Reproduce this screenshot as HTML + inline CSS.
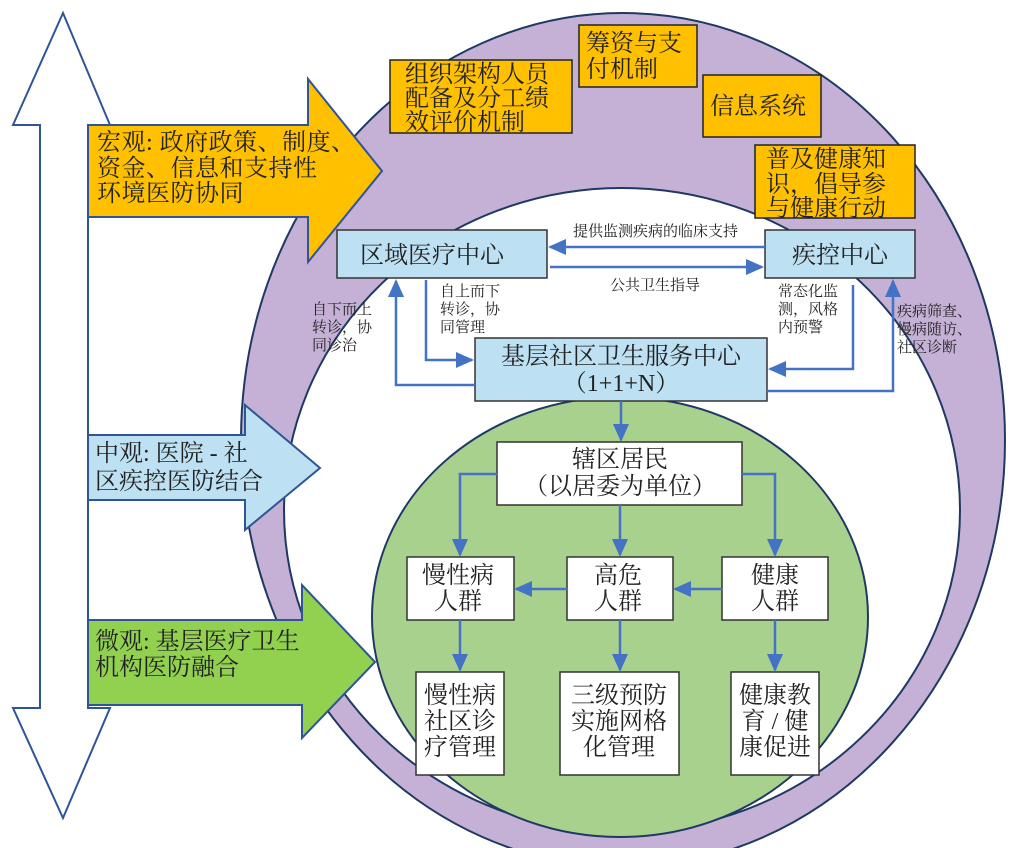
<!DOCTYPE html>
<html><head><meta charset="utf-8"><style>
html,body{margin:0;padding:0;background:#fff;}
svg{display:block;}
text{font-family:"Liberation Serif","Noto Serif CJK SC","Noto Sans CJK SC",serif;fill:#222;}
</style></head><body>
<svg width="1026" height="848" viewBox="0 0 1026 848" xmlns="http://www.w3.org/2000/svg">
<defs>
<marker id="ahb" markerWidth="18" markerHeight="16" refX="16" refY="8" orient="auto" markerUnits="userSpaceOnUse" viewBox="0 0 18 16">
<path d="M0,0 L18,8 L0,16 z" fill="#4472C4"/></marker>
</defs>
<ellipse cx="623" cy="440" rx="382" ry="427" fill="#C5B0D6" stroke="#1F3864" stroke-width="2"/>
<ellipse cx="622" cy="510" rx="338" ry="322" fill="#fff" stroke="#1F3864" stroke-width="2"/>
<ellipse cx="620" cy="617" rx="248" ry="220" fill="#A9D18E" stroke="#1F3864" stroke-width="2"/>

<path d="M63,13 L110,125 L88,125 L88,708 L110,708 L63,818 L13,708 L40,708 L40,125 L13,125 Z" fill="#fff" stroke="#2F5597" stroke-width="2"/>
<path d="M88,125 L308,125 L308,79 L382,171 L308,262 L308,217 L88,217 Z" fill="#FFC000" stroke="#2F5597" stroke-width="2"/>
<text font-size="24" letter-spacing="0.5"><tspan x="97" y="150">宏观: 政府政策、制度、</tspan><tspan x="97" y="176">资金、信息和支持性</tspan><tspan x="97" y="201">环境医防协同</tspan></text>
<path d="M88,435 L245,435 L245,405 L320,468 L245,530 L245,500 L88,500 Z" fill="#BDE0F3" stroke="#2F5597" stroke-width="2"/>
<text font-size="24"><tspan x="95" y="461">中观: 医院 - 社</tspan><tspan x="95" y="489">区疾控医防结合</tspan></text>
<path d="M88,620 L302,620 L302,585 L375,662 L302,738 L302,705 L88,705 Z" fill="#92D050" stroke="#2F5597" stroke-width="2"/>
<text font-size="24"><tspan x="95" y="649">微观: 基层医疗卫生</tspan><tspan x="95" y="675">机构医防融合</tspan></text>

<g fill="#FFC000" stroke="#222" stroke-width="1.5">
<rect x="390" y="60" width="182" height="73"/>
<rect x="579" y="25" width="118" height="62"/>
<rect x="703" y="75" width="118" height="62"/>
<rect x="755" y="145" width="160" height="73"/>
</g>
<text font-size="24"><tspan x="405" y="82">组织架构人员</tspan><tspan x="405" y="106">配备及分工绩</tspan><tspan x="405" y="130">效评价机制</tspan></text>
<text font-size="24"><tspan x="586" y="51">筹资与支</tspan><tspan x="586" y="77">付机制</tspan></text>
<text font-size="24" x="710" y="114">信息系统</text>
<text font-size="24"><tspan x="766" y="167">普及健康知</tspan><tspan x="766" y="192">识，倡导参</tspan><tspan x="766" y="216">与健康行动</tspan></text>

<g fill="#BDE0F3" stroke="#333" stroke-width="1.5">
<rect x="337" y="230" width="210" height="48"/>
<rect x="765" y="230" width="150" height="48"/>
<rect x="475" y="338" width="292" height="63"/>
</g>
<text font-size="24" x="432" y="263" text-anchor="middle">区域医疗中心</text>
<text font-size="24" x="840" y="263" text-anchor="middle">疾控中心</text>
<text font-size="24" x="621" y="364" text-anchor="middle">基层社区卫生服务中心</text>
<text font-size="24" x="621" y="391" text-anchor="middle">（1+1+N）</text>

<g stroke="#4472C4" stroke-width="2.5" fill="none">
<line x1="765" y1="247" x2="550" y2="247" marker-end="url(#ahb)"/>
<line x1="550" y1="267" x2="762" y2="267" marker-end="url(#ahb)"/>
<polyline points="426,280 426,360 472,360" marker-end="url(#ahb)"/>
<polyline points="475,385 396,385 396,281" marker-end="url(#ahb)"/>
<polyline points="853,285 853,369 770,369" marker-end="url(#ahb)"/>
<polyline points="767,391 893,391 893,281" marker-end="url(#ahb)"/>
<line x1="621" y1="401" x2="621" y2="440" marker-end="url(#ahb)"/>
</g>
<text font-size="15" x="573" y="236">提供监测疾病的临床支持</text>
<text font-size="15" x="610" y="290">公共卫生指导</text>
<text font-size="15"><tspan x="440" y="296">自上而下</tspan><tspan x="440" y="314">转诊，协</tspan><tspan x="440" y="332">同管理</tspan></text>
<text font-size="15"><tspan x="312" y="314">自下而上</tspan><tspan x="312" y="332">转诊，协</tspan><tspan x="312" y="350">同诊治</tspan></text>
<text font-size="15"><tspan x="778" y="296">常态化监</tspan><tspan x="778" y="314">测，风格</tspan><tspan x="778" y="332">内预警</tspan></text>
<text font-size="15"><tspan x="897" y="316">疾病筛查、</tspan><tspan x="897" y="334">慢病随访、</tspan><tspan x="897" y="352">社区诊断</tspan></text>

<g fill="#fff" stroke="#333" stroke-width="1.5">
<rect x="497" y="442" width="245" height="63"/>
<rect x="407" y="557" width="107" height="63"/>
<rect x="567" y="557" width="106" height="63"/>
<rect x="722" y="557" width="106" height="63"/>
<rect x="416" y="672" width="88" height="103"/>
<rect x="560" y="672" width="119" height="103"/>
<rect x="731" y="672" width="88" height="103"/>
</g>
<text font-size="24" x="620" y="467" text-anchor="middle">辖区居民</text>
<text font-size="24" x="620" y="494" text-anchor="middle">（以居委为单位）</text>
<text font-size="24" text-anchor="middle"><tspan x="458" y="583">慢性病</tspan><tspan x="458" y="609">人群</tspan></text>
<text font-size="24" text-anchor="middle"><tspan x="618" y="583">高危</tspan><tspan x="618" y="609">人群</tspan></text>
<text font-size="24" text-anchor="middle"><tspan x="775" y="583">健康</tspan><tspan x="775" y="609">人群</tspan></text>
<text font-size="24" text-anchor="middle"><tspan x="460" y="703">慢性病</tspan><tspan x="460" y="729">社区诊</tspan><tspan x="460" y="755">疗管理</tspan></text>
<text font-size="24" text-anchor="middle"><tspan x="619" y="703">三级预防</tspan><tspan x="619" y="729">实施网格</tspan><tspan x="619" y="755">化管理</tspan></text>
<text font-size="24" text-anchor="middle"><tspan x="775" y="703">健康教</tspan><tspan x="775" y="729">育 / 健</tspan><tspan x="775" y="755">康促进</tspan></text>

<g stroke="#4472C4" stroke-width="2.5" fill="none">
<polyline points="497,474 460,474 460,555" marker-end="url(#ahb)"/>
<line x1="620" y1="505" x2="620" y2="555" marker-end="url(#ahb)"/>
<polyline points="742,474 775,474 775,555" marker-end="url(#ahb)"/>
<line x1="567" y1="589" x2="516" y2="589" marker-end="url(#ahb)"/>
<line x1="722" y1="589" x2="675" y2="589" marker-end="url(#ahb)"/>
<line x1="460" y1="620" x2="460" y2="670" marker-end="url(#ahb)"/>
<line x1="620" y1="620" x2="620" y2="670" marker-end="url(#ahb)"/>
<line x1="775" y1="620" x2="775" y2="670" marker-end="url(#ahb)"/>
</g>
</svg>
</body></html>
